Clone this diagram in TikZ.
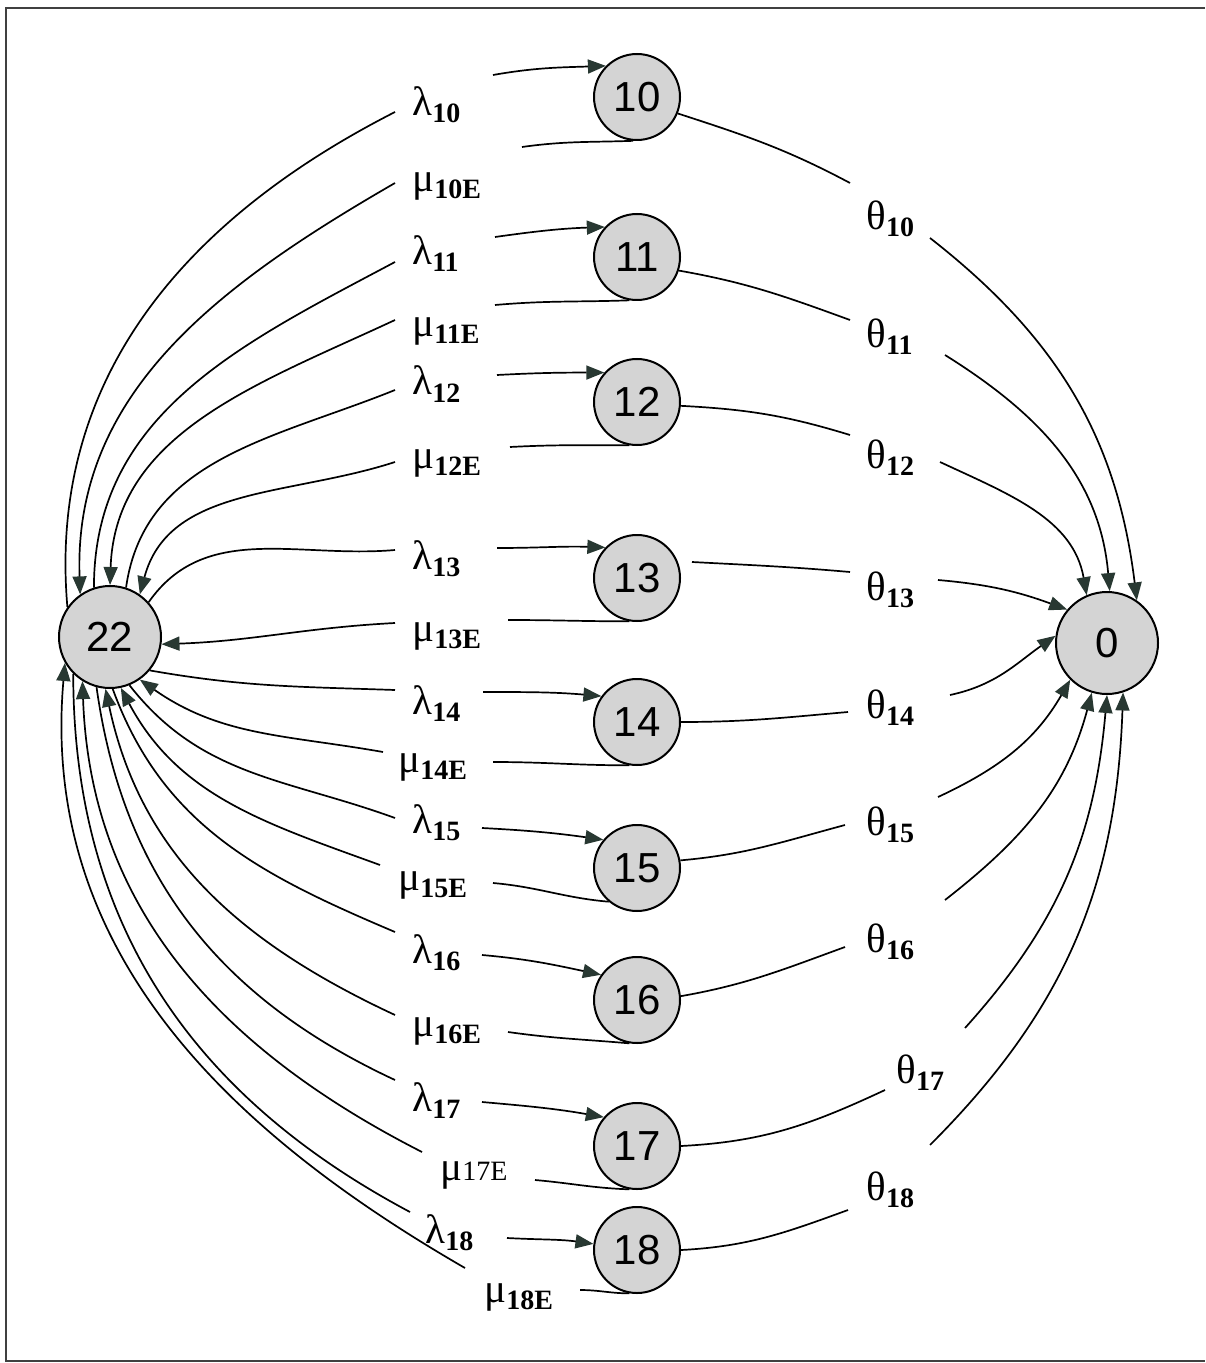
\documentclass[tikz,border=0pt]{standalone}
\usepackage{fontspec}
\setmainfont{Liberation Serif}
\newfontfamily\numfont{Liberation Sans}
\usetikzlibrary{arrows.meta}
\definecolor{statefill}{RGB}{212,212,212}
\definecolor{tipcol}{RGB}{40,56,50}
% rate symbol with a bold lowered index
\newcommand{\rate}[2]{\fontsize{20.5}{22}\selectfont #1\raisebox{-3.5pt}{\fontsize{14}{14}\selectfont\bfseries #2}}
\begin{document}
\begin{tikzpicture}[x=0.5pt,y=0.5pt,
  state/.style={circle,draw=black,line width=1pt,fill=statefill,inner sep=0pt,
    minimum size=43pt,font=\numfont\fontsize{21}{21}\selectfont},
  hub/.style={state,minimum size=51pt},
  rlabel/.style={anchor=base west,inner sep=0pt},
  link/.style={line width=0.85pt},
  flow/.style={link,-{Triangle[length=9pt,width=7pt,color=tipcol]}},
  frame/.style={line width=1pt,draw=black!75}]
\useasboundingbox (0,0) rectangle (1205,-1363);
\draw[frame] (1205,-8) -- (6,-8) -- (6,-1361) -- (1205,-1361);

% states
\node[hub] (n22) at (110,-637) {22};
\node[hub] (n0) at (1107,-643) {0};
\node[state] (n10) at (637,-97) {10};
\node[state] (n11) at (637,-257) {11};
\node[state] (n12) at (637,-402) {12};
\node[state] (n13) at (637,-578) {13};
\node[state] (n14) at (637,-722) {14};
\node[state] (n15) at (637,-868) {15};
\node[state] (n16) at (637,-1000) {16};
\node[state] (n17) at (637,-1146) {17};
\node[state] (n18) at (637,-1250) {18};

% rate labels
\node[rlabel] (l10) at (412,-116) {\rate{λ}{10}};
\node[rlabel] (m10) at (412,-192) {\rate{μ}{10E}};
\node[rlabel] (l11) at (412,-265) {\rate{λ}{11}};
\node[rlabel] (m11) at (412,-337) {\rate{μ}{11E}};
\node[rlabel] (l12) at (412,-395) {\rate{λ}{12}};
\node[rlabel] (m12) at (412,-468) {\rate{μ}{12E}};
\node[rlabel] (l13) at (412,-569) {\rate{λ}{13}};
\node[rlabel] (m13) at (412,-641) {\rate{μ}{13E}};
\node[rlabel] (l14) at (412,-714) {\rate{λ}{14}};
\node[rlabel] (m14) at (398,-772) {\rate{μ}{14E}};
\node[rlabel] (l15) at (412,-833) {\rate{λ}{15}};
\node[rlabel] (m15) at (398,-890) {\rate{μ}{15E}};
\node[rlabel] (l16) at (412,-963) {\rate{λ}{16}};
\node[rlabel] (m16) at (412,-1036) {\rate{μ}{16E}};
\node[rlabel] (l17) at (412,-1111) {\rate{λ}{17}};
\node[rlabel] (m17) at (440,-1180) {\fontsize{20.5}{22}\selectfont μ{\fontsize{14}{14}\selectfont 17E}};
\node[rlabel] (l18) at (425,-1243) {\rate{λ}{18}};
\node[rlabel] (m18) at (484,-1302) {\rate{μ}{18E}};
\node[rlabel] (t10) at (866,-230) {\rate{θ}{10}};
\node[rlabel] (t11) at (866,-348) {\rate{θ}{11}};
\node[rlabel] (t12) at (866,-468) {\rate{θ}{12}};
\node[rlabel] (t13) at (866,-600) {\rate{θ}{13}};
\node[rlabel] (t14) at (866,-718) {\rate{θ}{14}};
\node[rlabel] (t15) at (866,-835) {\rate{θ}{15}};
\node[rlabel] (t16) at (866,-952) {\rate{θ}{16}};
\node[rlabel] (t17) at (896,-1083) {\rate{θ}{17}};
\node[rlabel] (t18) at (866,-1200) {\rate{θ}{18}};

% ends of the broken connectors on either side of each label
\coordinate (L10w) at (395,-112); \coordinate (L10e) at (493,-75);
\coordinate (L11w) at (395,-262); \coordinate (L11e) at (495,-237);
\coordinate (L12w) at (395,-390); \coordinate (L12e) at (497,-375);
\coordinate (L13w) at (395,-550); \coordinate (L13e) at (497,-548);
\coordinate (L14w) at (395,-690); \coordinate (L14e) at (483,-692);
\coordinate (L15w) at (395,-818); \coordinate (L15e) at (482,-828);
\coordinate (L16w) at (395,-932); \coordinate (L16e) at (482,-955);
\coordinate (L17w) at (395,-1080); \coordinate (L17e) at (482,-1102);
\coordinate (L18w) at (410,-1212); \coordinate (L18e) at (507,-1238);

\coordinate (M10w) at (395,-183); \coordinate (M10e) at (522,-147);
\coordinate (M11w) at (395,-320); \coordinate (M11e) at (495,-305);
\coordinate (M12w) at (395,-462); \coordinate (M12e) at (510,-447);
\coordinate (M13w) at (395,-623); \coordinate (M13e) at (508,-620);
\coordinate (M14w) at (383,-752); \coordinate (M14e) at (493,-762);
\coordinate (M15w) at (380,-865); \coordinate (M15e) at (493,-883);
\coordinate (M16w) at (395,-1015); \coordinate (M16e) at (508,-1032);
\coordinate (M17w) at (422,-1152); \coordinate (M17e) at (535,-1180);
\coordinate (M18w) at (465,-1268); \coordinate (M18e) at (580,-1290);

\coordinate (T10w) at (850,-183); \coordinate (T10e) at (930,-238);
\coordinate (T11w) at (850,-320); \coordinate (T11e) at (945,-355);
\coordinate (T12w) at (850,-435); \coordinate (T12e) at (940,-462);
\coordinate (T13s) at (692,-562);
\coordinate (T13w) at (850,-572); \coordinate (T13e) at (938,-580);
\coordinate (T14w) at (848,-712); \coordinate (T14e) at (950,-695);
\coordinate (T15w) at (845,-825); \coordinate (T15e) at (938,-797);
\coordinate (T16w) at (845,-947); \coordinate (T16e) at (945,-900);
\coordinate (T17w) at (885,-1090); \coordinate (T17e) at (965,-1028);
\coordinate (T18w) at (848,-1210); \coordinate (T18e) at (930,-1145);

% arrivals from 22 (lambda) and returns to 22 (mu): left halves
\draw[link] (n22.145) to[out=95,in=207] (L10w);
\draw[flow] (M10w) to[out=210,in=92] (n22.125);
\draw[link] (n22.108) to[out=90,in=208] (L11w);
\draw[flow] (M11w) to[out=205,in=88] (n22.90);
\draw[link] (n22.72) to[out=82,in=202] (L12w);
\draw[flow] (M12w) to[out=198,in=75] (n22.55);
\draw[link] (n22.42) to[out=55,in=185] (L13w);
\draw[flow] (M13w) to[out=183,in=2] (n22.-8);
\draw[link] (n22.-40) to[out=-10,in=178] (L14w);
\draw[flow] (M14w) to[out=170,in=-35] (n22.-55);
\draw[link] (n22.-68) to[out=-52,in=160] (L15w);
\draw[flow] (M15w) to[out=160,in=-62] (n22.-78);
\draw[link] (n22.-87) to[out=-70,in=157] (L16w);
\draw[flow] (M16w) to[out=155,in=-78] (n22.-95);
\draw[link] (n22.-105) to[out=-82,in=155] (L17w);
\draw[flow] (M17w) to[out=153,in=-88] (n22.-122);
\draw[link] (n22.-135) to[out=-90,in=152] (L18w);
\draw[flow] (M18w) to[out=150,in=-95] (n22.-150);

% right halves next to the states
\draw[flow] (L10e) to[out=10,in=182] (n10.135);
\draw[flow] (L11e) to[out=8,in=182] (n11.137);
\draw[flow] (L12e) to[out=3,in=180] (n12.138);
\draw[flow] (L13e) to[out=0,in=178] (n13.136);
\draw[flow] (L14e) to[out=0,in=175] (n14.144);
\draw[flow] (L15e) to[out=-3,in=172] (n15.140);
\draw[flow] (L16e) to[out=-5,in=168] (n16.145);
\draw[flow] (L17e) to[out=-5,in=170] (n17.139);
\draw[flow] (L18e) to[out=-3,in=172] (n18.172);

\draw[link] (n10.-95) to[out=182,in=8] (M10e);
\draw[link] (n11.-100) to[out=182,in=5] (M11e);
\draw[link] (n12.-100) to[out=180,in=3] (M12e);
\draw[link] (n13.-100) to[out=180,in=0] (M13e);
\draw[link] (n14.-100) to[out=180,in=0] (M14e);
\draw[link] (n15.-130) to[out=175,in=-5] (M15e);
\draw[link] (n16.-100) to[out=175,in=-8] (M16e);
\draw[link] (n17.-100) to[out=178,in=-5] (M17e);
\draw[link] (n18.-100) to[out=180,in=0] (M18e);

% departures to 0 (theta)
\draw[link] (n10.-22) to[out=-18,in=152] (T10w);
\draw[link] (n11.-18) to[out=-10,in=160] (T11w);
\draw[link] (n12.-5) to[out=-3,in=163] (T12w);
\draw[link] (T13s) to[out=-3,in=175] (T13w);
\draw[link] (n14.0) to[out=0,in=185] (T14w);
\draw[link] (n15.10) to[out=5,in=195] (T15w);
\draw[link] (n16.5) to[out=10,in=200] (T16w);
\draw[link] (n17.0) to[out=3,in=205] (T17w);
\draw[link] (n18.0) to[out=3,in=200] (T18w);

\draw[flow] (T10e) to[out=-38,in=97] (n0.55);
\draw[flow] (T11e) to[out=-32,in=95] (n0.87);
\draw[flow] (T12e) to[out=-25,in=100] (n0.113);
\draw[flow] (T13e) to[out=-5,in=160] (n0.140);
\draw[flow] (T14e) to[out=12,in=215] (n0.172);
\draw[flow] (T15e) to[out=25,in=240] (n0.-135);
\draw[flow] (T16e) to[out=38,in=255] (n0.-107);
\draw[flow] (T17e) to[out=48,in=265] (n0.-90);
\draw[flow] (T18e) to[out=45,in=268] (n0.-72);
\end{tikzpicture}
\end{document}
